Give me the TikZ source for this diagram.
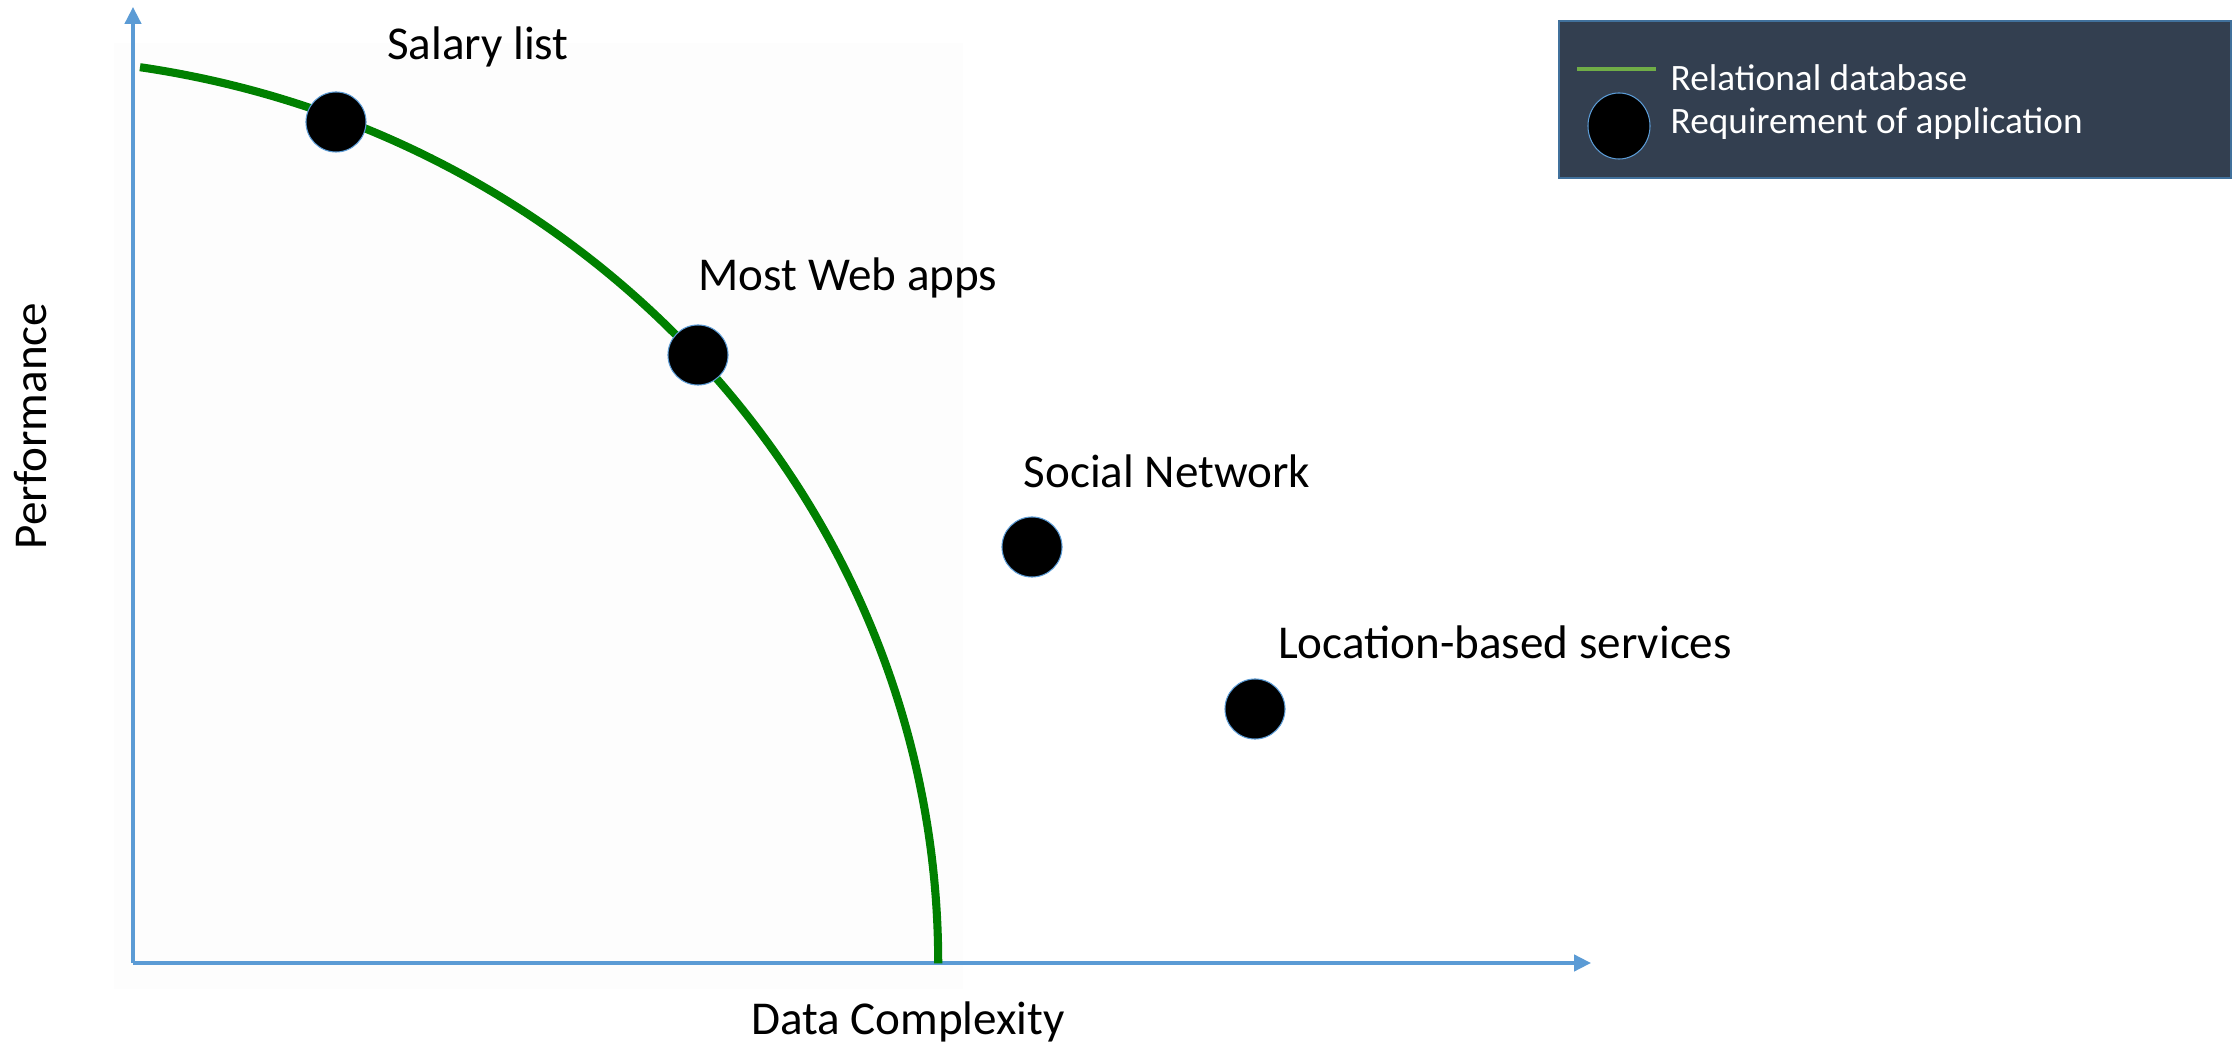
\documentclass[tikz,border=0pt]{standalone}
\usepackage{fontspec}
\setmainfont{Carlito}
\usetikzlibrary{arrows.meta,shapes.geometric}
\definecolor{axisblue}{HTML}{5B9BD5}
\definecolor{curvegreen}{HTML}{008000}
\definecolor{legendgreen}{HTML}{70AD47}
\definecolor{legendfill}{HTML}{333F50}
\definecolor{legendedge}{HTML}{41719C}
\tikzset{
  axis/.style={draw=axisblue, line width=1pt,
    -{Triangle[length=4.8pt,width=4.6pt]}},
  appdot/.style={circle, fill=black, draw=axisblue, line width=0.3pt,
    minimum size=0.6cm, inner sep=0pt},
  applabel/.style={font=\fontsize{13.4}{16}\selectfont, inner sep=0pt},
  legendtext/.style={font=\fontsize{10.6}{13}\selectfont, text=white,
    inner sep=0pt, anchor=west},
}
\begin{document}
\begin{tikzpicture}[x=0.01cm, y=0.01cm]
\useasboundingbox (0,0) rectangle (2238,1045);

% faint plot backdrop
\fill[black!0.8] (114,56) rectangle (963,1002);

% axes
\coordinate (origin) at (133,82);
\coordinate (xend) at (1591,82);
\coordinate (yend) at (133,1038);
\draw[axis] (origin) -- (xend);
\draw[axis] (origin) -- (yend);

% relational database frontier (quarter ellipse)
\draw[curvegreen, line width=2.3pt]
  (140,977.8) arc[start angle=81.4, end angle=0, x radius=9.38cm, y radius=9.06cm];

% application requirements
\node[appdot] (salary) at (336,923) {};
\node[appdot] (web) at (698,690) {};
\node[appdot] (social) at (1032,498) {};
\node[appdot] (location) at (1255,336) {};

\node[applabel] (salarytxt) at (478,998) {Salary list};
\node[applabel] (webtxt) at (848,767) {Most Web apps};
\node[applabel] (socialtxt) at (1167,574) {Social Network};
\node[applabel] (locationtxt) at (1505,403) {Location-based services};

% axis titles
\node[applabel] (xlabel) at (908,23) {Data Complexity};
\node[applabel, rotate=90] (ylabel) at (31,619) {Performance};

% legend
\draw[fill=legendfill, draw=legendedge, line width=0.6pt]
  (1559,867) rectangle (2231,1024);
\coordinate (legA) at (1577,976);
\coordinate (legB) at (1656,976);
\draw[legendgreen, line width=1.2pt] (legA) -- (legB);
\node[ellipse, fill=black, draw=axisblue, line width=0.3pt,
  minimum width=0.62cm, minimum height=0.66cm, inner sep=0pt] (legdot) at (1619,919) {};
\node[legendtext] (legrel) at (1670,967) {Relational database};
\node[legendtext] (legreq) at (1670,921) {Requirement of application};
\end{tikzpicture}
\end{document}
